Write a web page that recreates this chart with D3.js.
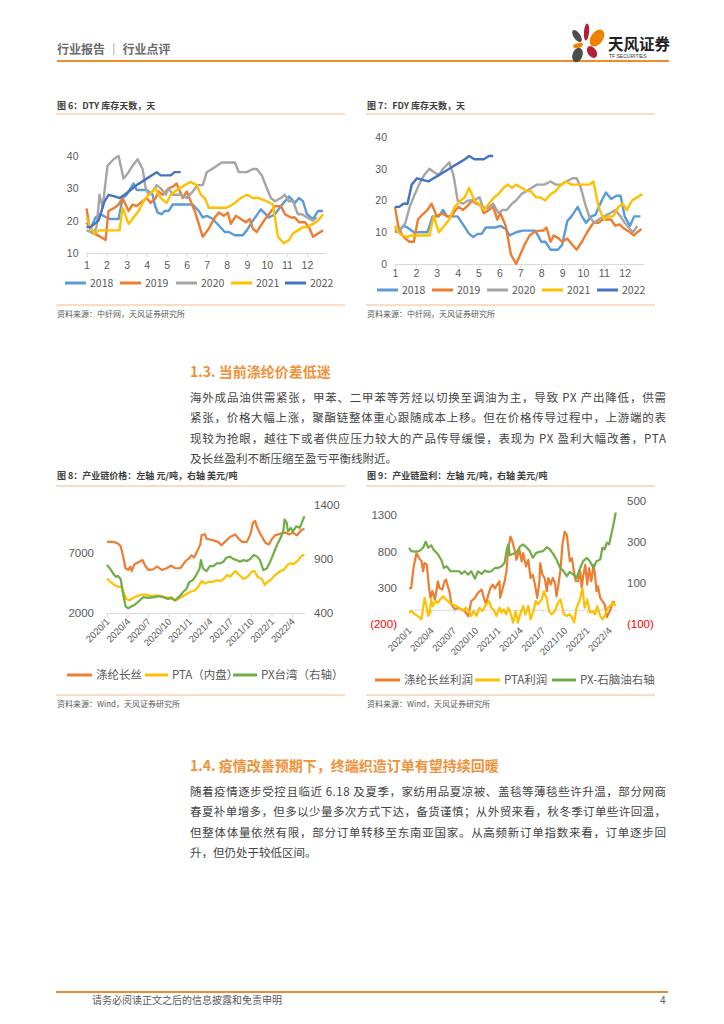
<!DOCTYPE html>
<html lang="zh">
<head>
<meta charset="UTF-8" />
<title>行业点评 p4</title>
<script src="https://d3js.org/d3.v7.min.js"></script>
<style>
  body { margin: 0; background: #fff; }
  svg { display: block; font-family: "Noto Sans CJK SC", sans-serif; }
  .num { font-family: "Liberation Sans", "Noto Sans", sans-serif; }
</style>
</head>
<body>
<svg width="724" height="1024"></svg>
<script>
// ---- data ----
const months = d3.range(1, 13);
const yearNames = ["2018", "2019", "2020", "2021", "2022"];
const yearColors = ["#5B9BD5", "#ED7D31", "#A5A5A5", "#FFC000", "#4472C4"];

// DTY 库存天数 [month, days]
const dty2018 = [[1,19.5],[1.2,17.5],[1.45,21],[1.7,22],[2.0,21],[2.2,20.5],[2.6,20.5],[2.8,27],[3.0,28],[3.35,31.5],[3.5,29.5],[4.0,29.5],[4.1,29],[4.3,28],[4.4,25],[4.55,22.5],[4.75,22],[4.9,23],[5.1,23],[5.3,25],[5.6,25],[6.0,25],[6.3,25],[6.6,23],[6.8,21],[7.0,21.5],[7.3,20.5],[7.6,18.5],[7.9,16.5],[8.1,16.5],[8.4,15.5],[8.8,15.5],[9.0,17],[9.3,20],[9.7,23.5],[10.1,21],[10.4,22],[10.7,24.5],[11.1,27.5],[11.4,25.5],[11.6,27],[11.8,26],[12.0,22],[12.3,20.5],[12.55,23],[12.8,23]];
const dty2019 = [[1,23.8],[1.15,18],[1.4,16],[1.7,15],[1.95,14],[2.1,23],[2.4,24],[2.6,25],[2.8,27],[3.1,23],[3.3,25],[3.5,24.5],[3.8,26],[4.0,27],[4.2,25.5],[4.45,27],[4.6,29],[4.8,28],[5.1,30],[5.3,30.5],[5.5,31.5],[5.8,27],[6.0,29],[6.4,23],[6.6,19],[6.8,15],[7.1,17.5],[7.4,21],[7.6,22.5],[7.85,21.5],[8.05,22.5],[8.2,19],[8.45,21.5],[8.7,20.5],[8.95,19.5],[9.15,20.5],[9.3,17.5],[9.5,16.5],[9.8,19.5],[10.1,22],[10.4,24.5],[10.7,24.5],[10.9,22],[11.2,21],[11.4,21],[11.6,19.5],[11.9,19.5],[12.1,18],[12.3,15],[12.55,16],[12.8,17]];
const dty2020 = [[1,17],[1.2,16.5],[1.35,16],[1.5,18],[1.65,28],[1.8,24],[2.05,37],[2.35,39],[2.6,40],[2.85,33],[3.1,35],[3.3,37],[3.55,39],[3.8,36],[3.95,30],[4.1,28],[4.3,29],[4.5,31],[4.7,30],[4.95,28],[5.1,30],[5.3,28],[5.5,28],[5.7,28],[6.0,27],[6.3,29],[6.55,31],[6.8,31],[7.0,35],[7.4,36.5],[7.75,38],[8.0,38],[8.4,38],[8.6,35],[9.0,35],[9.3,36],[9.5,36],[9.75,34],[10.0,30],[10.2,27],[10.4,26],[10.7,27],[10.9,28],[11.1,26],[11.3,26],[11.55,22],[11.75,22],[12.0,21],[12.3,20],[12.5,21]];
const dty2021 = [[1,21],[1.2,18],[1.4,16],[1.6,17],[2.0,17],[2.4,17],[2.65,17],[2.8,24],[3.1,19],[3.35,21],[3.6,23],[3.85,26],[4.1,28],[4.45,30],[4.7,27],[5.0,25.5],[5.2,28],[5.5,29.5],[5.9,31],[6.2,32],[6.5,31],[6.7,28],[6.9,27],[7.1,24],[7.5,24],[8.0,24],[8.3,25],[8.7,27],[9.0,28],[9.3,27],[9.6,27],[10.0,26],[10.3,25],[10.55,15],[10.85,13],[11.1,14],[11.3,16],[11.55,17],[11.8,18],[12.0,18],[12.3,19],[12.55,20],[12.8,22]];
const dty2022 = [[1,18],[1.2,18],[1.4,19],[1.6,20],[1.9,26],[2.1,28],[2.4,27.5],[2.65,27],[2.9,28],[3.2,29.5],[3.5,31],[3.75,32],[4.0,33],[4.25,34],[4.5,35],[4.7,34],[5.0,34],[5.2,34],[5.4,35],[5.7,35]];

// FDY 库存天数 [month, days]
const fdy2018 = [[1,10],[1.2,10.5],[1.4,12],[1.6,11.5],[1.9,10],[2.2,10],[2.55,10],[2.8,15],[3.1,15],[3.3,17],[3.5,15],[3.75,15],[4.0,15],[4.3,12],[4.55,9.5],[4.75,8.5],[4.95,9.5],[5.15,9.5],[5.35,11.5],[5.6,11.5],[5.8,11.5],[6.05,12],[6.3,11],[6.5,9],[6.8,10],[7.1,10.5],[7.5,10.5],[7.7,10.5],[7.85,9],[8.0,7],[8.2,7],[8.45,4.5],[8.8,4.5],[9.0,6],[9.25,13.5],[9.45,15],[9.75,18],[9.95,15],[10.15,13],[10.4,15],[10.6,15.5],[10.9,20],[11.1,22.5],[11.35,20.5],[11.6,21.5],[11.8,21.5],[12.0,15],[12.25,12],[12.45,15],[12.75,15]];
const fdy2019 = [[1,18],[1.15,12],[1.35,9],[1.5,8],[1.7,7],[1.9,7],[2.1,14],[2.3,15.5],[2.55,17],[2.75,19],[3.0,15],[3.25,16],[3.5,15],[3.7,15],[3.9,17],[4.05,18],[4.25,17],[4.5,18.5],[4.7,20],[4.9,19],[5.1,18.5],[5.25,16],[5.5,17],[5.7,18],[5.9,14],[6.05,16],[6.3,12],[6.55,3],[6.8,0],[7.0,3],[7.2,6],[7.45,9],[7.65,10],[7.9,10.5],[8.1,10.5],[8.25,11.5],[8.45,7],[8.6,9],[8.85,8],[9.0,7],[9.25,8],[9.5,6],[9.7,4.5],[9.95,7],[10.2,10],[10.5,13],[10.75,13],[10.95,14],[11.35,14],[11.55,12],[11.75,12.5],[12.0,11],[12.25,10],[12.45,9],[12.6,10],[12.8,11]];
const fdy2020 = [[1,11],[1.15,10],[1.35,11.5],[1.5,13],[1.7,18],[1.95,22],[2.15,25],[2.4,28],[2.65,30],[2.85,29],[3.1,28],[3.3,30],[3.6,32],[3.8,28],[4.0,20],[4.25,19],[4.5,20],[4.75,20],[5.05,21],[5.2,18],[5.45,17.5],[5.7,19],[5.95,16],[6.15,17],[6.35,17],[6.6,19],[6.8,20],[7.05,22],[7.3,23],[7.55,24],[7.8,25],[8.15,25],[8.45,26],[8.7,25],[8.95,25],[9.2,26],[9.5,27],[9.7,27],[9.9,24],[10.1,19],[10.3,15],[10.55,13],[10.75,14],[11.0,15],[11.3,16],[11.55,17],[11.8,15],[12.0,13],[12.25,11],[12.4,10],[12.6,12]];
const fdy2021 = [[1,12],[1.15,10],[1.35,9],[1.55,8.5],[1.8,9],[2.1,9],[2.4,9],[2.65,9],[2.85,15],[3.1,10],[3.35,12],[3.6,14],[3.85,18],[4.15,20],[4.35,21],[4.55,24],[4.8,20],[5.0,19],[5.25,17],[5.5,19],[5.75,21],[5.95,22],[6.2,24],[6.4,25],[6.6,24],[6.8,25],[7.05,24],[7.3,23],[7.5,23],[7.75,21],[7.95,21],[8.2,20],[8.45,22],[8.7,23],[8.95,25],[9.2,26],[9.45,25],[9.7,25],[10.0,25],[10.3,25],[10.5,26],[10.75,18],[11.0,14],[11.2,15],[11.45,15],[11.7,18],[11.9,19],[12.1,17],[12.35,20],[12.6,21],[12.85,22]];
const fdy2022 = [[1,18],[1.2,18],[1.4,19],[1.6,19],[1.8,25],[2.05,27],[2.3,26.5],[2.6,26],[2.85,27],[3.1,28],[3.35,29],[3.6,30],[3.85,31],[4.1,32],[4.35,33],[4.55,34],[4.8,33],[5.05,33],[5.25,33],[5.5,34],[5.7,34]];

// 产业链价格 [months since 2020/1, value]
const quarterMonths = [0, 3, 6, 9, 12, 15, 18, 21, 24, 27];
const quarterLabels = ["2020/1", "2020/4", "2020/7", "2020/10", "2021/1", "2021/4", "2021/7", "2021/10", "2022/1", "2022/4"];
const priceFilament = [[0,7930],[0.9,7930],[1.6,7790],[2.0,7565],[2.3,6860],[2.7,5730],[3.1,5590],[3.4,5870],[3.6,5500],[4.0,6070],[4.5,6210],[5.2,6410],[5.5,6010],[6.0,5590],[6.7,5640],[7.3,5870],[8.0,5590],[8.7,5730],[9.4,5955],[9.9,5730],[10.7,5730],[11.4,6290],[12.0,6580],[12.3,6800],[12.7,6630],[13.1,7085],[13.6,7700],[13.8,8500],[14.3,8550],[14.5,8190],[15.5,8050],[16.2,7930],[16.7,7650],[17.2,7930],[17.95,8330],[18.7,8550],[19.2,8190],[19.7,7930],[20.4,7930],[20.9,8550],[21.3,9540],[21.6,9680],[21.9,9120],[22.4,8550],[23.1,7850],[23.6,7700],[24.0,8130],[24.5,8470],[25.3,8610],[26.0,8700],[26.6,8550],[27.1,8700],[27.7,8470],[28.3,8900],[28.8,9030]];
const pricePTA = [[0,4880],[0.5,4600],[1.1,4320],[1.75,4175],[2.1,4175],[2.4,3750],[2.8,3190],[3.3,3045],[3.8,3270],[4.4,3410],[5.0,3525],[5.75,3525],[6.5,3410],[7.2,3470],[8.0,3385],[8.7,3270],[9.4,3330],[10.0,3045],[10.6,3245],[11.4,3525],[12.1,3750],[12.8,3890],[13.3,4175],[13.8,4655],[14.3,4460],[14.9,4600],[15.5,4600],[16.0,4740],[16.5,4655],[17.0,4825],[17.5,5165],[17.95,5020],[18.7,5500],[19.3,5165],[19.9,4825],[20.5,5020],[21.1,5445],[21.5,5500],[21.95,5020],[22.6,4825],[23.0,4320],[23.4,4600],[24.0,4825],[24.5,5165],[25.3,5500],[25.8,5590],[26.3,6010],[26.8,6150],[27.2,6070],[27.8,6350],[28.3,6720],[28.8,6860]];
const pricePX = [[0,844],[0.5,806],[0.9,766],[1.3,734],[1.6,744],[2.0,712],[2.3,594],[2.7,462],[3.1,444],[3.6,462],[4.0,475],[4.5,500],[4.9,525],[5.3,547],[6.0,540],[6.7,544],[7.5,556],[8.2,547],[8.9,531],[9.4,537],[9.9,516],[10.6,556],[11.1,594],[11.6,625],[12.0,687],[12.5,703],[13.0,750],[13.5,812],[13.7,890],[14.0,812],[14.5,787],[15.0,834],[15.5,834],[16.0,860],[16.5,860],[17.0,875],[17.4,912],[17.95,922],[18.4,900],[18.9,890],[19.4,875],[19.9,890],[20.4,881],[20.9,900],[21.4,937],[21.9,922],[22.3,890],[22.8,797],[23.3,812],[23.8,875],[24.3,953],[24.8,1031],[25.3,1094],[25.7,1156],[25.9,1266],[26.2,1234],[26.4,1156],[26.8,1187],[27.1,1156],[27.6,1203],[28.1,1187],[28.5,1250],[28.8,1297]];

// 产业链盈利 [months since 2020/1, value]
const profitFilament = [[0,291],[0.3,300],[0.6,573],[1.0,777],[1.35,709],[1.7,664],[1.9,527],[2.1,641],[2.4,618],[2.7,300],[2.9,164],[3.15,255],[3.5,141],[3.9,391],[4.1,300],[4.5,277],[4.8,391],[5.0,414],[5.3,300],[5.5,232],[5.7,73],[6.2,5],[6.6,27],[7.1,5],[7.5,-18],[8.0,-86],[8.4,118],[8.9,164],[9.3,232],[9.8,277],[10.1,164],[10.4,73],[10.7,209],[11.0,300],[11.3,345],[11.6,291],[11.9,345],[12.2,391],[12.3,164],[12.6,277],[12.9,391],[13.15,527],[13.4,845],[13.7,1005],[13.95,936],[14.3,800],[14.5,686],[14.9,823],[15.2,664],[15.4,777],[15.8,595],[16.1,686],[16.4,436],[16.7,482],[17.0,345],[17.3,164],[17.6,391],[17.7,641],[18.0,482],[18.3,436],[18.6,255],[18.8,436],[19.1,345],[19.4,436],[19.7,368],[19.9,186],[20.1,300],[20.45,550],[20.7,891],[21.0,1073],[21.3,1027],[21.5,845],[21.7,664],[22.0,709],[22.25,527],[22.5,391],[22.8,391],[23.1,527],[23.3,300],[23.5,459],[23.8,618],[24.05,345],[24.3,573],[24.6,391],[24.9,618],[25.1,482],[25.3,255],[25.5,323],[25.8,164],[26.1,118],[26.4,73],[26.7,-100],[27.1,-18],[27.5,109],[27.8,95]];
const profitPTA = [[0,-41],[0.3,-18],[0.8,-64],[1.2,-86],[1.7,-132],[1.9,27],[2.1,164],[2.3,73],[2.6,-86],[2.8,-41],[3.0,141],[3.2,50],[3.6,118],[3.9,95],[4.2,141],[4.6,186],[5.0,141],[5.5,95],[5.9,73],[6.4,50],[6.8,27],[7.3,-18],[7.7,27],[8.2,-41],[8.4,-86],[8.7,-18],[9.1,-86],[9.5,27],[9.9,-18],[10.4,73],[10.8,118],[11.1,27],[11.4,5],[11.8,-86],[12.2,27],[12.5,-41],[12.8,5],[13.1,-64],[13.4,27],[13.7,-41],[14.05,-177],[14.4,-18],[14.7,-177],[15.0,-64],[15.4,50],[15.7,-64],[16.1,50],[16.4,-132],[16.8,-18],[17.1,118],[17.4,73],[17.9,141],[18.2,255],[18.6,141],[18.9,-18],[19.2,-64],[19.7,-18],[20.0,73],[20.4,141],[20.6,73],[20.9,-64],[21.3,-86],[21.6,-64],[21.9,-86],[22.3,-177],[22.6,27],[23.0,118],[23.4,300],[23.7,27],[24.05,141],[24.4,-41],[24.8,-18],[25.1,-64],[25.4,50],[25.8,-86],[26.1,-132],[26.4,-86],[26.8,27],[27.1,50],[27.5,95],[27.9,50]];
const spreadPXNaphtha = [[0,271],[0.3,255],[0.8,252],[1.4,255],[1.9,271],[2.25,300],[2.6,271],[3.0,283],[3.3,263],[3.9,239],[4.4,209],[4.7,173],[5.1,181],[5.6,157],[6.2,157],[6.8,157],[7.1,144],[7.5,157],[8.0,141],[8.4,157],[8.9,121],[9.3,157],[9.8,144],[10.2,160],[10.7,154],[11.1,157],[11.6,173],[12.0,173],[12.5,181],[12.9,198],[13.2,263],[13.4,287],[13.6,235],[14.05,242],[14.5,247],[15.0,279],[15.4,287],[15.9,271],[16.3,255],[16.7,222],[17.2,247],[17.7,252],[18.1,255],[18.6,274],[19.0,263],[19.5,239],[19.9,214],[20.4,173],[20.8,160],[21.3,133],[21.7,154],[22.2,141],[22.6,124],[23.1,173],[23.5,206],[24.0,222],[24.4,206],[24.9,173],[25.3,206],[25.8,214],[26.1,271],[26.4,263],[26.7,296],[27.0,287],[27.3,336],[27.6,385],[27.9,442]];

const svg = d3.select("svg");
svg.append("rect").attr("width", 724).attr("height", 1024).attr("fill", "#fff");

const ORANGE = "#F08A2C";
const PEACH = "#F6B889";
const GREY = "#595959";

// ---- page header ----
svg.append("text").attr("x", 57).attr("y", 54)
  .attr("font-size", 12).attr("font-weight", 700).attr("fill", "#6b6b6b")
  .text("行业报告 ｜ 行业点评");
svg.append("line").attr("x1", 57).attr("x2", 669).attr("y1", 61).attr("y2", 61)
  .attr("stroke", ORANGE).attr("stroke-width", 1.8);

const logo = svg.append("g");
[
  [577, 36, 3.3, 7, -35, "#4d4d4d"],
  [586.5, 32, 2.6, 8.5, 5, "#b3203a"],
  [597, 38, 6, 9.5, 35, "#ef8200"],
  [578, 45.5, 5, 2.4, -15, "#ef8200"],
  [592, 52, 4.3, 6.5, -35, "#b3203a"],
  [577.5, 55, 5, 7.5, 20, "#4d4d4d"]
].forEach(p => {
  logo.append("ellipse").attr("rx", p[2]).attr("ry", p[3]).attr("fill", p[5])
    .attr("transform", `translate(${p[0]},${p[1]}) rotate(${p[4]})`);
});
logo.append("text").attr("x", 608).attr("y", 50).attr("font-size", 15.5)
  .attr("font-weight", 700).attr("fill", "#222").text("天风证券");
logo.append("text").attr("x", 609).attr("y", 58).attr("font-size", 5)
  .attr("fill", "#333").attr("class", "num").text("TF SECURITIES");

// ---- helpers ----
function figTitle(x, y, t) {
  svg.append("text").attr("x", x).attr("y", y).attr("font-size", 9)
    .attr("font-weight", 700).attr("fill", "#404040").text(t);
}
function rule(x1, x2, y) {
  svg.append("line").attr("x1", x1).attr("x2", x2).attr("y1", y).attr("y2", y)
    .attr("stroke", PEACH).attr("stroke-width", 1);
}
function sourceNote(x, y, t) {
  svg.append("text").attr("x", x).attr("y", y).attr("font-size", 8)
    .attr("fill", GREY).text(t);
}
function drawLine(g, data, x, y, color, w) {
  g.append("path").datum(data)
    .attr("fill", "none").attr("stroke", color).attr("stroke-width", w)
    .attr("stroke-linejoin", "round")
    .attr("d", d3.line().x(d => x(d[0])).y(d => y(d[1])));
}
function legendItem(x, y, color, label, len, w, fs) {
  svg.append("line").attr("x1", x).attr("x2", x + len).attr("y1", y).attr("y2", y)
    .attr("stroke", color).attr("stroke-width", w);
  svg.append("text").attr("x", x + len + 4).attr("y", y).attr("dy", "0.36em")
    .attr("font-size", fs).attr("fill", GREY).text(label);
}

// ---- seasonal charts (图6, 图7) ----
function seasonal(cfg) {
  const x = d3.scaleLinear().domain([1, 12.9]).range([cfg.x0, cfg.x1]);
  const y = d3.scaleLinear().domain(cfg.yDomain).range([cfg.y0, cfg.y1]);
  const g = svg.append("g");

  const xa = g.append("g").attr("transform", `translate(0,${cfg.y0})`)
    .call(d3.axisBottom(x).tickValues(months).tickFormat(d3.format("d"))
      .tickSizeInner(4).tickSizeOuter(0).tickPadding(cfg.pad));
  xa.select(".domain").attr("stroke", "#d9d9d9");
  xa.selectAll(".tick line").attr("stroke", "#d9d9d9");
  xa.selectAll("text").attr("font-size", 10.5).attr("class", "num").style("fill", GREY);

  const ya = g.append("g").attr("transform", `translate(${cfg.x0},0)`)
    .call(d3.axisLeft(y).tickValues(cfg.yTicks).tickSize(0).tickPadding(8));
  ya.select(".domain").remove();
  ya.selectAll("text").attr("font-size", 10.5).attr("class", "num").style("fill", GREY);

  cfg.series.forEach((s, i) => drawLine(g, s, x, y, yearColors[i], 2.4));

  yearNames.forEach((n, i) =>
    legendItem(cfg.legendX[i], cfg.legendY, yearColors[i], n, 21, 3, 10.5));
}

figTitle(57, 109, "图 6：DTY 库存天数，天");
rule(56, 345, 114);
seasonal({
  x0: 86.5, x1: 325, y0: 253, y1: 156, yDomain: [10, 40], yTicks: [10, 20, 30, 40],
  pad: 5,
  series: [dty2018, dty2019, dty2020, dty2021, dty2022],
  legendX: [65, 120, 176, 231, 285], legendY: 283
});
rule(56, 345, 305);
sourceNote(57, 317, "资料来源：中纤网，天风证券研究所");

figTitle(367, 109, "图 7：FDY 库存天数，天");
rule(366, 655, 114);
seasonal({
  x0: 395, x1: 643.5, y0: 264, y1: 137, yDomain: [0, 40], yTicks: [0, 10, 20, 30, 40],
  pad: 2,
  series: [fdy2018, fdy2019, fdy2020, fdy2021, fdy2022],
  legendX: [377, 432, 487, 542, 597], legendY: 290
});
rule(366, 655, 305);
sourceNote(367, 317, "资料来源：中纤网，天风证券研究所");

// ---- body text ----
function heading(y, t) {
  svg.append("text").attr("x", 190).attr("y", y).attr("font-size", 14)
    .attr("font-weight", 700).attr("fill", "#F0923A").text(t);
}
function paragraph(y0, lines) {
  lines.forEach((t, i) => {
    const tx = svg.append("text").attr("x", 190).attr("y", y0 + i * 20.3)
      .attr("font-size", 11.5).attr("fill", "#444").text(t);
    if (i < lines.length - 1) tx.attr("textLength", 476).attr("lengthAdjust", "spacing");
  });
}

heading(377, "1.3. 当前涤纶价差低迷");
paragraph(402, [
  "海外成品油供需紧张，甲苯、二甲苯等芳烃以切换至调油为主，导致 PX 产出降低，供需",
  "紧张，价格大幅上涨，聚酯链整体重心跟随成本上移。但在价格传导过程中，上游端的表",
  "现较为抢眼，越往下或者供应压力较大的产品传导缓慢，表现为 PX 盈利大幅改善，PTA",
  "及长丝盈利不断压缩至盈亏平衡线附近。"
]);

// ---- dual-axis charts (图8, 图9) ----
function dualChart(cfg) {
  const x = d3.scaleLinear().domain(cfg.xDomain).range([cfg.x0, cfg.x1]);
  const yL = d3.scaleLinear().domain(cfg.leftDomain).range([cfg.y0, cfg.y1]);
  const yR = d3.scaleLinear().domain(cfg.rightDomain).range([cfg.y0, cfg.y1]);
  const g = svg.append("g");
  const fmt = v => v < 0 ? `(${-v})` : `${v}`;

  const axisY = yL(cfg.axisAt);
  const xa = g.append("g").attr("transform", `translate(0,${axisY})`)
    .call(d3.axisBottom(x).tickValues(quarterMonths).tickSizeInner(4).tickSizeOuter(0).tickFormat(""));
  xa.select(".domain").attr("stroke", "#d9d9d9");
  xa.selectAll(".tick line").attr("stroke", "#d9d9d9");

  g.selectAll(".qlab").data(quarterMonths).join("text")
    .attr("class", "num")
    .attr("transform", d => `translate(${x(d) + 1},${cfg.labelY}) rotate(-45)`)
    .attr("text-anchor", "end").attr("dy", "0.35em")
    .attr("font-size", 9.5).attr("fill", GREY)
    .text((d, i) => quarterLabels[i]);

  const la = g.append("g").attr("transform", `translate(${cfg.leftX},0)`)
    .call(d3.axisLeft(yL).tickValues(cfg.leftTicks).tickSize(0).tickPadding(0).tickFormat(fmt));
  la.select(".domain").remove();
  la.selectAll("text").attr("font-size", 11.5).attr("class", "num")
    .style("fill", d => d < 0 ? "#FF0000" : GREY);

  const ra = g.append("g").attr("transform", `translate(${cfg.rightX},0)`)
    .call(d3.axisRight(yR).tickValues(cfg.rightTicks).tickSize(0).tickPadding(0).tickFormat(fmt));
  ra.select(".domain").remove();
  ra.selectAll("text").attr("font-size", 11.5).attr("class", "num")
    .style("fill", d => d < 0 ? "#FF0000" : GREY);

  cfg.left.forEach(s => drawLine(g, s.data, x, yL, s.color, 2.2));
  cfg.right.forEach(s => drawLine(g, s.data, x, yR, s.color, 2.2));
}

figTitle(57, 479, "图 8：产业链价格：左轴 元/吨，右轴 美元/吨");
rule(56, 345, 486);
dualChart({
  xDomain: [0, 28.8], x0: 107, x1: 304.5, y0: 613, y1: 505,
  leftDomain: [2000, 11000], leftTicks: [2000, 7000], leftX: 94,
  rightDomain: [400, 1400], rightTicks: [400, 900, 1400], rightX: 314,
  axisAt: 2000, labelY: 620,
  left: [{ data: priceFilament, color: "#ED7D31" }, { data: pricePTA, color: "#FFC000" }],
  right: [{ data: pricePX, color: "#70AD47" }]
});
legendItem(67, 675, "#ED7D31", "涤纶长丝", 25, 3, 11.5);
legendItem(145, 675, "#FFC000", "PTA（内盘）", 23, 3, 11.5);
legendItem(233, 675, "#70AD47", "PX台湾（右轴）", 24, 3, 11.5);
rule(56, 345, 695);
sourceNote(57, 707, "资料来源：Wind，天风证券研究所");

figTitle(367, 479, "图 9：产业链盈利：左轴 元/吨，右轴 美元/吨");
rule(366, 655, 486);
dualChart({
  xDomain: [0, 28], x0: 409, x1: 616.5, y0: 624.3, y1: 500.5,
  leftDomain: [-200, 1500], leftTicks: [-200, 300, 800, 1300], leftX: 397,
  rightDomain: [-100, 500], rightTicks: [-100, 100, 300, 500], rightX: 627,
  axisAt: 0, labelY: 629,
  left: [{ data: profitFilament, color: "#ED7D31" }, { data: profitPTA, color: "#FFC000" }],
  right: [{ data: spreadPXNaphtha, color: "#70AD47" }]
});
legendItem(375, 680, "#ED7D31", "涤纶长丝利润", 25, 3, 11.5);
legendItem(475, 680, "#FFC000", "PTA利润", 25, 3, 11.5);
legendItem(552, 680, "#70AD47", "PX-石脑油右轴", 24, 3, 11.5);
rule(366, 655, 695);
sourceNote(367, 707, "资料来源：Wind，天风证券研究所");

heading(771, "1.4. 疫情改善预期下，终端织造订单有望持续回暖");
paragraph(796, [
  "随着疫情逐步受控且临近 6.18 及夏季，家纺用品夏凉被、盖毯等薄毯些许升温，部分网商",
  "春夏补单增多，但多以少量多次方式下达，备货谨慎；从外贸来看，秋冬季订单些许回温，",
  "但整体体量依然有限，部分订单转移至东南亚国家。从高频新订单指数来看，订单逐步回",
  "升，但仍处于较低区间。"
]);

// ---- page footer ----
svg.append("line").attr("x1", 56).attr("x2", 668).attr("y1", 992).attr("y2", 992)
  .attr("stroke", ORANGE).attr("stroke-width", 1.8);
svg.append("text").attr("x", 92).attr("y", 1004).attr("font-size", 10)
  .attr("fill", GREY).text("请务必阅读正文之后的信息披露和免责申明");
svg.append("text").attr("x", 660).attr("y", 1004).attr("font-size", 10)
  .attr("fill", GREY).attr("class", "num").text("4");
</script>
</body>
</html>
